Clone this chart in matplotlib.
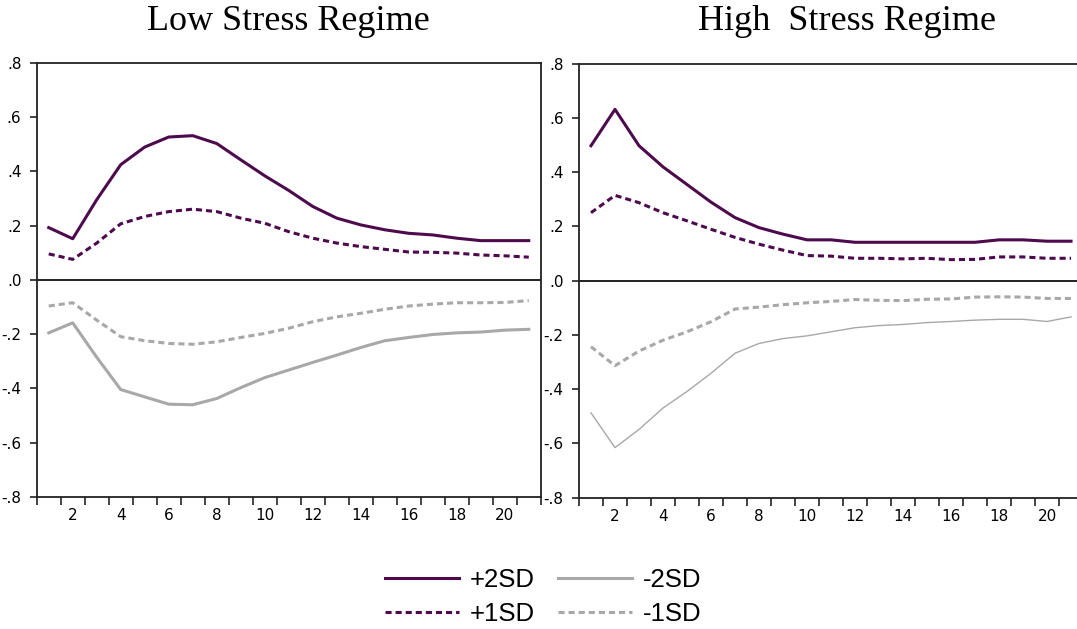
import numpy as np
import matplotlib
matplotlib.use("Agg")
import matplotlib.pyplot as plt
from matplotlib.lines import Line2D

# impulse horizon
periods = list(range(1, 22))

# Low stress regime responses
low_p2 = [0.193, 0.152, 0.296, 0.425, 0.490, 0.527, 0.532, 0.503, 0.443, 0.384, 0.330,
          0.271, 0.228, 0.203, 0.185, 0.172, 0.166, 0.154, 0.145, 0.145, 0.145]
low_p1 = [0.096, 0.076, 0.136, 0.207, 0.234, 0.252, 0.261, 0.252, 0.228, 0.209, 0.178,
          0.154, 0.136, 0.123, 0.113, 0.103, 0.102, 0.099, 0.092, 0.089, 0.084]
low_m1 = [-0.096, -0.084, -0.148, -0.209, -0.224, -0.234, -0.237, -0.228, -0.212, -0.197, -0.178,
          -0.154, -0.136, -0.123, -0.108, -0.096, -0.089, -0.084, -0.084, -0.083, -0.076]
low_m2 = [-0.195, -0.158, -0.285, -0.404, -0.431, -0.458, -0.460, -0.437, -0.397, -0.360, -0.332,
          -0.304, -0.277, -0.249, -0.224, -0.212, -0.201, -0.195, -0.192, -0.185, -0.182]

# High stress regime responses
high_p2 = [0.497, 0.631, 0.497, 0.419, 0.354, 0.289, 0.232, 0.195, 0.171, 0.150, 0.150,
           0.141, 0.141, 0.141, 0.141, 0.141, 0.141, 0.150, 0.150, 0.145, 0.145]
high_p1 = [0.250, 0.314, 0.287, 0.250, 0.220, 0.189, 0.159, 0.134, 0.112, 0.092, 0.090,
           0.082, 0.082, 0.080, 0.082, 0.077, 0.078, 0.087, 0.087, 0.082, 0.082]
high_m1 = [-0.244, -0.314, -0.260, -0.220, -0.189, -0.152, -0.105, -0.098, -0.089, -0.082, -0.077,
           -0.070, -0.073, -0.074, -0.069, -0.068, -0.061, -0.060, -0.061, -0.066, -0.066]
high_m2 = [-0.488, -0.616, -0.549, -0.470, -0.409, -0.342, -0.268, -0.232, -0.214, -0.204, -0.189,
           -0.174, -0.166, -0.162, -0.155, -0.151, -0.146, -0.143, -0.143, -0.151, -0.134]

purple = "#4d0a4d"
grey = "#a8a8a8"
dash = (2.0, 1.3)

tick_font = ["Liberation Sans Narrow", "DejaVu Sans"]

fig = plt.figure(figsize=(10.77, 6.29), dpi=100)
ax1 = fig.add_axes([0.0341, 0.2099, 0.468, 0.690])
ax2 = fig.add_axes([0.5376, 0.2090, 0.468, 0.690])


def draw_panel(ax, p2, p1, m1, m2, m2_width):
    ax.plot(periods, p2, color=purple, lw=2.2)
    ax.plot(periods, p1, color=purple, lw=2.2, dashes=dash)
    ax.plot(periods, m1, color=grey, lw=2.2, dashes=dash)
    ax.plot(periods, m2, color=grey, lw=m2_width)
    ax.axhline(0, color="#222222", lw=1.4)
    ax.set_xlim(0.5, 21.5)
    ax.set_ylim(-0.8, 0.8)
    yt = np.arange(-0.8, 0.81, 0.2)
    ax.set_yticks(yt)
    ax.set_yticklabels([("-" if v < -1e-9 else "") + ("%.1f" % abs(v))[1:] for v in yt])
    ax.set_xticks(range(2, 21, 2))
    ax.set_xticks(np.arange(0.5, 22, 1), minor=True)
    ax.tick_params(axis="x", which="major", length=0, pad=8)
    ax.tick_params(axis="x", which="minor", length=6, width=1.2, direction="out", color="#222222")
    ax.tick_params(axis="y", length=5, width=1.2, direction="out", color="#222222", pad=6)
    for lab in ax.get_xticklabels() + ax.get_yticklabels():
        lab.set_family(tick_font)
        lab.set_fontsize(11)
    for sp in ax.spines.values():
        sp.set_color("#222222")
        sp.set_linewidth(1.3)


draw_panel(ax1, low_p2, low_p1, low_m1, low_m2, 2.2)
draw_panel(ax2, high_p2, high_p1, high_m1, high_m2, 1.0)

fig.text(288 / 1077, 1 - 22 / 629, "Low Stress Regime", ha="center", va="center",
         family=["Liberation Serif", "DejaVu Serif"], fontsize=26)
fig.text(847 / 1077, 1 - 22 / 629, "High  Stress Regime", ha="center", va="center",
         family=["Liberation Serif", "DejaVu Serif"], fontsize=26)

handles = [
    Line2D([], [], color=purple, lw=2.2),
    Line2D([], [], color=purple, lw=2.2, dashes=dash),
    Line2D([], [], color=grey, lw=2.2),
    Line2D([], [], color=grey, lw=2.2, dashes=dash),
]
labels = ["+2SD", "+1SD", "-2SD", "-1SD"]
fig.legend(handles, labels, ncol=2, loc="center", bbox_to_anchor=(543 / 1077, 1 - 597 / 629),
           frameon=False, handlelength=2.9, handletextpad=0.4, columnspacing=0.9,
           labelspacing=0.42, prop={"family": ["Liberation Sans", "DejaVu Sans"], "size": 18.5})

fig.savefig("out.png", dpi=100)
